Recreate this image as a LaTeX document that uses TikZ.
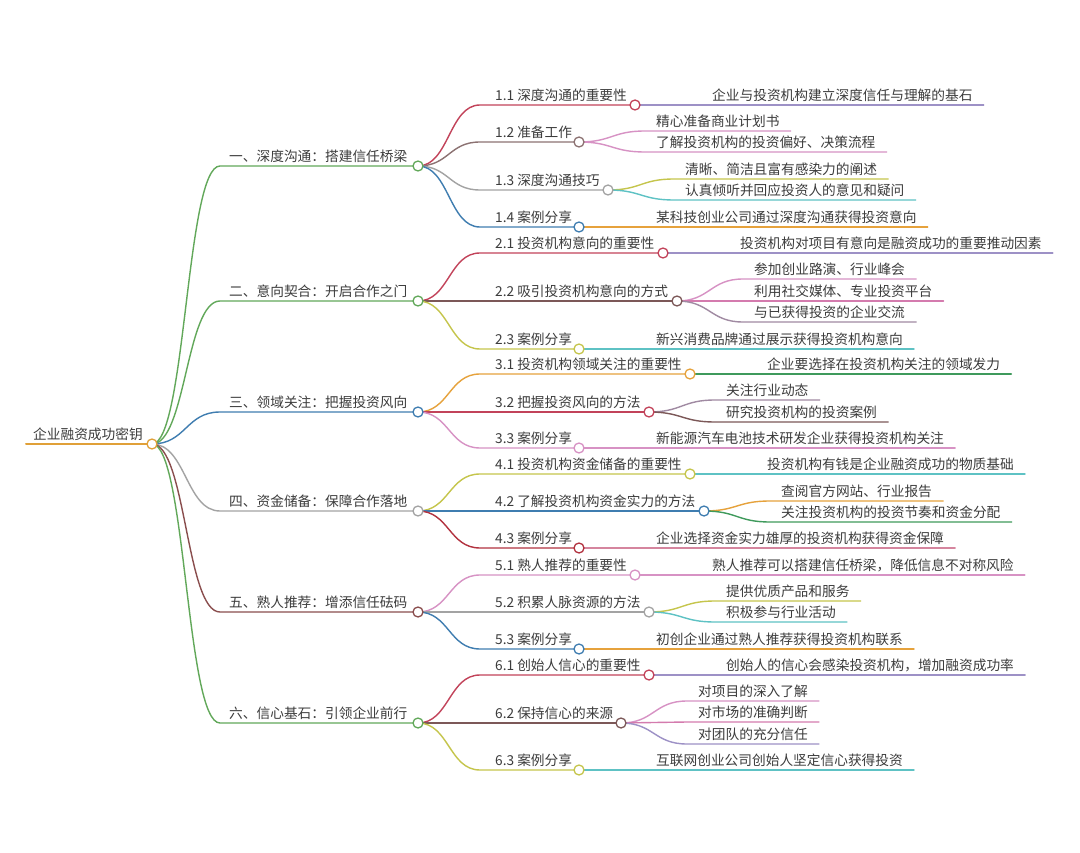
\documentclass[tikz,border=0pt]{standalone}
\usepackage{fontspec}
\newfontfamily\cjk{Noto Sans CJK SC}
\usetikzlibrary{calc}
\definecolor{txtc}{HTML}{3C3C3C}
\definecolor{rootc}{HTML}{E0A038}
\definecolor{grn}{HTML}{62A85A}
\definecolor{blu}{HTML}{3F7DB0}
\definecolor{gry}{HTML}{A3A3A3}
\definecolor{brn}{HTML}{8A4E4E}
\definecolor{redc}{HTML}{C2435A}
\definecolor{bgr}{HTML}{8C7272}
\definecolor{brn2}{HTML}{7C5858}
\definecolor{ylg}{HTML}{C5C54C}
\definecolor{org}{HTML}{E6A23C}
\definecolor{pnk}{HTML}{D792C4}
\definecolor{drd}{HTML}{B2323F}
\definecolor{lav}{HTML}{9D91C6}
\definecolor{tea}{HTML}{5EC2C4}
\definecolor{grn2}{HTML}{3F9A5C}
\definecolor{mau}{HTML}{A08AA2}
\definecolor{pnk2}{HTML}{D47BAE}
\definecolor{rose}{HTML}{D5859E}
\tikzset{
  every node/.style={font=\cjk\fontsize{13.7}{16}\selectfont, text=txtc},
  lbl/.style={anchor=south west, inner ysep=0pt, text depth=4pt, inner xsep=#1},
  lnk/.style={draw=#1, line width=1.4pt, line cap=round},
  dot/.style={circle, draw=#1, fill=white, line width=1.3pt, minimum size=10pt, inner sep=0pt},
}
\begin{document}
\begin{tikzpicture}[x=1pt,y=-1pt]
\fill[white] (0,0) rectangle (1080,853);
\useasboundingbox (0,0) rectangle (1080,853);

% ---------- root ----------
\node[lbl=7pt] (root) at (26,444) {企业融资成功密钥};
\coordinate (c0) at (152,444);

% ---------- level 1 ----------
\node[lbl=9pt] (n1) at (220,166) {一、深度沟通：搭建信任桥梁};
\node[lbl=9pt] (n2) at (220,301) {二、意向契合：开启合作之门};
\node[lbl=9pt] (n3) at (220,412) {三、领域关注：把握投资风向};
\node[lbl=9pt] (n4) at (220,511) {四、资金储备：保障合作落地};
\node[lbl=9pt] (n5) at (220,612) {五、熟人推荐：增添信任砝码};
\node[lbl=9pt] (n6) at (220,723) {六、信心基石：引领企业前行};
\coordinate (c1) at (418,166);
\coordinate (c2) at (418,301);
\coordinate (c3) at (418,412);
\coordinate (c4) at (418,511);
\coordinate (c5) at (418,612);
\coordinate (c6) at (418,723);

% ---------- level 2 ----------
\node[lbl=15pt] (a11) at (480,105) {1.1 深度沟通的重要性};
\node[lbl=15pt] (a12) at (480,142) {1.2 准备工作};
\node[lbl=15pt] (a13) at (480,190) {1.3 深度沟通技巧};
\node[lbl=15pt] (a14) at (480,227) {1.4 案例分享};
\node[lbl=15pt] (a21) at (480,253) {2.1 投资机构意向的重要性};
\node[lbl=15pt] (a22) at (480,301) {2.2 吸引投资机构意向的方式};
\node[lbl=15pt] (a23) at (480,349) {2.3 案例分享};
\node[lbl=15pt] (a31) at (480,374) {3.1 投资机构领域关注的重要性};
\node[lbl=15pt] (a32) at (480,412) {3.2 把握投资风向的方法};
\node[lbl=15pt] (a33) at (480,448) {3.3 案例分享};
\node[lbl=15pt] (a41) at (480,474) {4.1 投资机构资金储备的重要性};
\node[lbl=15pt] (a42) at (480,511) {4.2 了解投资机构资金实力的方法};
\node[lbl=15pt] (a43) at (480,548) {4.3 案例分享};
\node[lbl=15pt] (a51) at (480,575) {5.1 熟人推荐的重要性};
\node[lbl=15pt] (a52) at (480,612) {5.2 积累人脉资源的方法};
\node[lbl=15pt] (a53) at (480,649) {5.3 案例分享};
\node[lbl=15pt] (a61) at (480,675) {6.1 创始人信心的重要性};
\node[lbl=15pt] (a62) at (480,723) {6.2 保持信心的来源};
\node[lbl=15pt] (a63) at (480,770) {6.3 案例分享};
\coordinate (c11) at (635,105);
\coordinate (c12) at (579,142);
\coordinate (c13) at (608,190);
\coordinate (c14) at (579,227);
\coordinate (c21) at (663,253);
\coordinate (c22) at (677,301);
\coordinate (c23) at (579,349);
\coordinate (c31) at (690,374);
\coordinate (c32) at (649,412);
\coordinate (c33) at (579,448);
\coordinate (c41) at (690,474);
\coordinate (c42) at (704,511);
\coordinate (c43) at (579,548);
\coordinate (c51) at (635,575);
\coordinate (c52) at (649,612);
\coordinate (c53) at (579,649);
\coordinate (c61) at (649,675);
\coordinate (c62) at (621,723);
\coordinate (c63) at (579,770);

% ---------- leaves ----------
\node[lbl=11pt] (l11) at (701,105) {企业与投资机构建立深度信任与理解的基石};
\node[lbl=11pt] (l12a) at (645,131) {精心准备商业计划书};
\node[lbl=11pt] (l12b) at (645,152) {了解投资机构的投资偏好、决策流程};
\node[lbl=11pt] (l13a) at (674,179) {清晰、简洁且富有感染力的阐述};
\node[lbl=11pt] (l13b) at (674,200) {认真倾听并回应投资人的意见和疑问};
\node[lbl=11pt] (l14) at (645,227) {某科技创业公司通过深度沟通获得投资意向};
\node[lbl=11pt] (l21) at (729,253) {投资机构对项目有意向是融资成功的重要推动因素};
\node[lbl=11pt] (l22a) at (743,279) {参加创业路演、行业峰会};
\node[lbl=11pt] (l22b) at (743,301) {利用社交媒体、专业投资平台};
\node[lbl=11pt] (l22c) at (743,322) {与已获得投资的企业交流};
\node[lbl=11pt] (l23) at (645,349) {新兴消费品牌通过展示获得投资机构意向};
\node[lbl=11pt] (l31) at (756,374) {企业要选择在投资机构关注的领域发力};
\node[lbl=11pt] (l32a) at (715,400) {关注行业动态};
\node[lbl=11pt] (l32b) at (715,422) {研究投资机构的投资案例};
\node[lbl=11pt] (l33) at (645,448) {新能源汽车电池技术研发企业获得投资机构关注};
\node[lbl=11pt] (l41) at (756,474) {投资机构有钱是企业融资成功的物质基础};
\node[lbl=11pt] (l42a) at (770,501) {查阅官方网站、行业报告};
\node[lbl=11pt] (l42b) at (770,522) {关注投资机构的投资节奏和资金分配};
\node[lbl=11pt] (l43) at (645,548) {企业选择资金实力雄厚的投资机构获得资金保障};
\node[lbl=11pt] (l51) at (701,575) {熟人推荐可以搭建信任桥梁，降低信息不对称风险};
\node[lbl=11pt] (l52a) at (715,601) {提供优质产品和服务};
\node[lbl=11pt] (l52b) at (715,622) {积极参与行业活动};
\node[lbl=11pt] (l53) at (645,649) {初创企业通过熟人推荐获得投资机构联系};
\node[lbl=11pt] (l61) at (715,675) {创始人的信心会感染投资机构，增加融资成功率};
\node[lbl=11pt] (l62a) at (687,701) {对项目的深入了解};
\node[lbl=11pt] (l62b) at (687,722) {对市场的准确判断};
\node[lbl=11pt] (l62c) at (687,744) {对团队的充分信任};
\node[lbl=11pt] (l63) at (645,770) {互联网创业公司创始人坚定信心获得投资};

% ---------- connectors: root ----------
\draw[lnk=rootc, line width=2pt] (root.south west) -- (c0);
\draw[lnk=grn] (c0) .. controls +(34,0) and +(-34,0) .. (n1.south west) -- (c1);
\draw[lnk=grn] (c0) .. controls +(34,0) and +(-34,0) .. (n2.south west) -- (c2);
\draw[lnk=blu] (c0) .. controls +(34,0) and +(-34,0) .. (n3.south west) -- (c3);
\draw[lnk=gry] (c0) .. controls +(34,0) and +(-34,0) .. (n4.south west) -- (c4);
\draw[lnk=brn] (c0) .. controls +(34,0) and +(-34,0) .. (n5.south west) -- (c5);
\draw[lnk=grn] (c0) .. controls +(34,0) and +(-34,0) .. (n6.south west) -- (c6);

% ---------- connectors: level 2 ----------
\draw[lnk=redc] (c1) .. controls +(31,0) and +(-31,0) .. (a11.south west) -- (c11);
\draw[lnk=bgr]  (c1) .. controls +(31,0) and +(-31,0) .. (a12.south west) -- (c12);
\draw[lnk=gry]  (c1) .. controls +(31,0) and +(-31,0) .. (a13.south west) -- (c13);
\draw[lnk=blu]  (c1) .. controls +(31,0) and +(-31,0) .. (a14.south west) -- (c14);
\draw[lnk=redc] (c2) .. controls +(31,0) and +(-31,0) .. (a21.south west) -- (c21);
\draw[lnk=brn2] (c2) .. controls +(31,0) and +(-31,0) .. (a22.south west) -- (c22);
\draw[lnk=ylg]  (c2) .. controls +(31,0) and +(-31,0) .. (a23.south west) -- (c23);
\draw[lnk=org]  (c3) .. controls +(31,0) and +(-31,0) .. (a31.south west) -- (c31);
\draw[lnk=redc] (c3) .. controls +(31,0) and +(-31,0) .. (a32.south west) -- (c32);
\draw[lnk=pnk]  (c3) .. controls +(31,0) and +(-31,0) .. (a33.south west) -- (c33);
\draw[lnk=ylg]  (c4) .. controls +(31,0) and +(-31,0) .. (a41.south west) -- (c41);
\draw[lnk=blu]  (c4) .. controls +(31,0) and +(-31,0) .. (a42.south west) -- (c42);
\draw[lnk=drd]  (c4) .. controls +(31,0) and +(-31,0) .. (a43.south west) -- (c43);
\draw[lnk=pnk]  (c5) .. controls +(31,0) and +(-31,0) .. (a51.south west) -- (c51);
\draw[lnk=gry]  (c5) .. controls +(31,0) and +(-31,0) .. (a52.south west) -- (c52);
\draw[lnk=blu]  (c5) .. controls +(31,0) and +(-31,0) .. (a53.south west) -- (c53);
\draw[lnk=redc] (c6) .. controls +(31,0) and +(-31,0) .. (a61.south west) -- (c61);
\draw[lnk=brn2] (c6) .. controls +(31,0) and +(-31,0) .. (a62.south west) -- (c62);
\draw[lnk=ylg]  (c6) .. controls +(31,0) and +(-31,0) .. (a63.south west) -- (c63);

% ---------- connectors: leaves ----------
\draw[lnk=lav]  (c11) .. controls +(33,0) and +(-33,0) .. (l11.south west) -- (l11.south east);
\draw[lnk=pnk]  (c12) .. controls +(33,0) and +(-33,0) .. (l12a.south west) -- (l12a.south east);
\draw[lnk=pnk]  (c12) .. controls +(33,0) and +(-33,0) .. (l12b.south west) -- (l12b.south east);
\draw[lnk=ylg]  (c13) .. controls +(33,0) and +(-33,0) .. (l13a.south west) -- (l13a.south east);
\draw[lnk=tea]  (c13) .. controls +(33,0) and +(-33,0) .. (l13b.south west) -- (l13b.south east);
\draw[lnk=org]  (c14) .. controls +(33,0) and +(-33,0) .. (l14.south west) -- (l14.south east);
\draw[lnk=lav]  (c21) .. controls +(33,0) and +(-33,0) .. (l21.south west) -- (l21.south east);
\draw[lnk=pnk]  (c22) .. controls +(33,0) and +(-33,0) .. (l22a.south west) -- (l22a.south east);
\draw[lnk=pnk2] (c22) .. controls +(33,0) and +(-33,0) .. (l22b.south west) -- (l22b.south east);
\draw[lnk=mau]  (c22) .. controls +(33,0) and +(-33,0) .. (l22c.south west) -- (l22c.south east);
\draw[lnk=tea]  (c23) .. controls +(33,0) and +(-33,0) .. (l23.south west) -- (l23.south east);
\draw[lnk=grn2] (c31) .. controls +(33,0) and +(-33,0) .. (l31.south west) -- (l31.south east);
\draw[lnk=mau]  (c32) .. controls +(33,0) and +(-33,0) .. (l32a.south west) -- (l32a.south east);
\draw[lnk=brn2] (c32) .. controls +(33,0) and +(-33,0) .. (l32b.south west) -- (l32b.south east);
\draw[lnk=pnk]  (c33) .. controls +(33,0) and +(-33,0) .. (l33.south west) -- (l33.south east);
\draw[lnk=tea]  (c41) .. controls +(33,0) and +(-33,0) .. (l41.south west) -- (l41.south east);
\draw[lnk=org]  (c42) .. controls +(33,0) and +(-33,0) .. (l42a.south west) -- (l42a.south east);
\draw[lnk=grn2] (c42) .. controls +(33,0) and +(-33,0) .. (l42b.south west) -- (l42b.south east);
\draw[lnk=rose] (c43) .. controls +(33,0) and +(-33,0) .. (l43.south west) -- (l43.south east);
\draw[lnk=pnk]  (c51) .. controls +(33,0) and +(-33,0) .. (l51.south west) -- (l51.south east);
\draw[lnk=ylg]  (c52) .. controls +(33,0) and +(-33,0) .. (l52a.south west) -- (l52a.south east);
\draw[lnk=tea]  (c52) .. controls +(33,0) and +(-33,0) .. (l52b.south west) -- (l52b.south east);
\draw[lnk=org]  (c53) .. controls +(33,0) and +(-33,0) .. (l53.south west) -- (l53.south east);
\draw[lnk=lav]  (c61) .. controls +(33,0) and +(-33,0) .. (l61.south west) -- (l61.south east);
\draw[lnk=pnk]  (c62) .. controls +(33,0) and +(-33,0) .. (l62a.south west) -- (l62a.south east);
\draw[lnk=pnk2] (c62) .. controls +(33,0) and +(-33,0) .. (l62b.south west) -- (l62b.south east);
\draw[lnk=lav]  (c62) .. controls +(33,0) and +(-33,0) .. (l62c.south west) -- (l62c.south east);
\draw[lnk=tea]  (c63) .. controls +(33,0) and +(-33,0) .. (l63.south west) -- (l63.south east);

% ---------- circles ----------
\node[dot=rootc] (d0) at (c0) {};
\node[dot=grn] (d1) at (c1) {};
\node[dot=grn] (d2) at (c2) {};
\node[dot=blu] (d3) at (c3) {};
\node[dot=gry] (d4) at (c4) {};
\node[dot=brn] (d5) at (c5) {};
\node[dot=grn] (d6) at (c6) {};
\node[dot=redc] (d11) at (c11) {};
\node[dot=bgr]  (d12) at (c12) {};
\node[dot=gry]  (d13) at (c13) {};
\node[dot=blu]  (d14) at (c14) {};
\node[dot=redc] (d21) at (c21) {};
\node[dot=brn2] (d22) at (c22) {};
\node[dot=ylg]  (d23) at (c23) {};
\node[dot=org]  (d31) at (c31) {};
\node[dot=redc] (d32) at (c32) {};
\node[dot=pnk]  (d33) at (c33) {};
\node[dot=ylg]  (d41) at (c41) {};
\node[dot=blu]  (d42) at (c42) {};
\node[dot=drd]  (d43) at (c43) {};
\node[dot=pnk]  (d51) at (c51) {};
\node[dot=gry]  (d52) at (c52) {};
\node[dot=blu]  (d53) at (c53) {};
\node[dot=redc] (d61) at (c61) {};
\node[dot=brn2] (d62) at (c62) {};
\node[dot=ylg]  (d63) at (c63) {};
\end{tikzpicture}
\end{document}
